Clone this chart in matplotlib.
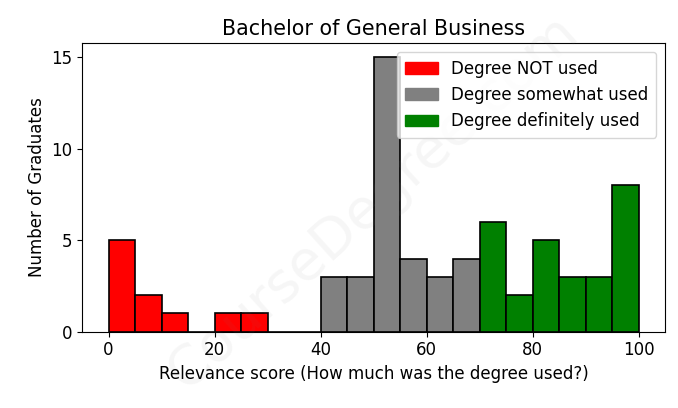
import numpy as np
from matplotlib import pyplot as plt
from matplotlib.patches import Patch

# bin edges and counts per bin (width 5)
bin_left = list(range(0, 100, 5))
counts = [5, 2, 1, 0, 1, 1, 0, 0, 3, 3, 15, 4, 3, 4, 6, 2, 5, 3, 3, 8]
labels = ['Degree NOT used', 'Degree somewhat used', 'Degree definitely used']
colors = ['red', 'grey', 'green']

def group(x):
    if x < 40:
        return 0
    if x < 70:
        return 1
    return 2

fig = plt.figure(figsize=(6.78, 4.08), dpi=100)
ax = fig.add_axes([0.121, 0.187, 0.860, 0.708])

for i in range(3):
    xs = [x for x in bin_left if group(x) == i]
    hs = [counts[bin_left.index(x)] for x in xs]
    ax.bar(xs, hs, width=5, align='edge', color=colors[i],
           edgecolor='black', linewidth=1.2)

ax.set_xlim(-5, 105)
ax.set_ylim(0, 15.8)
ax.set_xticks([0, 20, 40, 60, 80, 100])
ax.set_yticks([0, 5, 10, 15])
ax.tick_params(labelsize=12)
ax.set_title('Bachelor of General Business', fontsize=14.9)
ax.set_xlabel('Relevance score (How much was the degree used?)', fontsize=12)
ax.set_ylabel('Number of Graduates', fontsize=12)

handles = [Patch(color=c, label=l) for c, l in zip(colors, labels)]
ax.legend(handles=handles, loc='upper right', fontsize=12,
          labelspacing=0.5, borderpad=0.45, borderaxespad=0.55)

# watermark
ax.text(0.5, 0.45, 'CourseDegree.com', transform=ax.transAxes, fontsize=40,
        color='grey', alpha=0.07, rotation=42, ha='center', va='center')

fig.savefig('out.png')
